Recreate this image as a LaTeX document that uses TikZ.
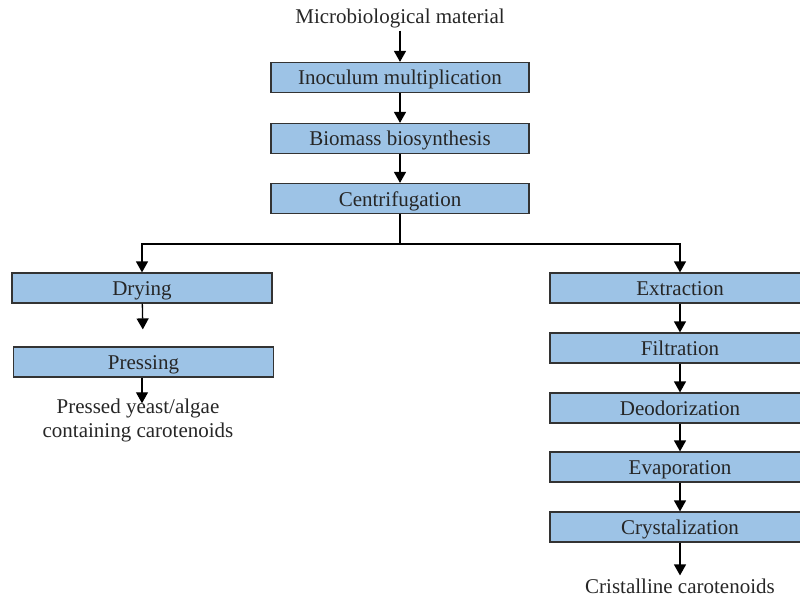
\documentclass[tikz,border=0pt]{standalone}
\usepackage{fontspec}
\setmainfont{Liberation Serif}
\usetikzlibrary{arrows.meta}
\definecolor{boxBlue}{RGB}{157,195,230}
\tikzset{
  >={Triangle[length=11pt,width=12pt]},
  box/.style = {draw=black!80, line width=1.2pt, fill=boxBlue, minimum width=258pt, minimum height=30pt, inner sep=0pt, text height=15pt, text depth=0pt, text=black!85},
  endtext/.style = {align=center, text=black!85, inner sep=3pt},
  line/.style = {line width=1.3pt},
}

\begin{document}
\begin{tikzpicture}[x=1pt, y=-1pt, font=\fontsize{21}{24}\selectfont]
  \useasboundingbox (0,0) rectangle (800,599);

  % ----------------------------------------------------------------------
  % Main line
  % ----------------------------------------------------------------------
  \node[endtext] (material) at (400,18) {Microbiological material};
  \node[box] (inoculum) at (400,77.5) {Inoculum multiplication};
  \node[box] (biomass) at (400,138.5) {Biomass biosynthesis};
  \node[box] (centrif) at (400,198.5) {Centrifugation};

  \draw[line, ->] (material) -- (inoculum);
  \draw[line, ->] (inoculum) -- (biomass);
  \draw[line, ->] (biomass) -- (centrif);

  % split
  \draw[line] (centrif.south) -- ++(0,30) coordinate (split);

  % ----------------------------------------------------------------------
  % Left branch
  % ----------------------------------------------------------------------
  \node[box, minimum width=260pt] (drying) at (142,288) {Drying};
  \node[box, minimum width=260pt] (pressing) at (143.5,362) {Pressing};
  \node[endtext] (pressed) at (138,420) {Pressed yeast/algae\\containing carotenoids};

  \draw[line, ->] (split) -| (drying);
  \draw[line, ->, shorten >=17pt] (drying) -- (pressing);
  \draw[line, ->, shorten >=-8pt] (pressing.south -| drying) -- (pressed.north -| drying);

  % ----------------------------------------------------------------------
  % Right branch
  % ----------------------------------------------------------------------
  \foreach \name/\txt/\y in {extract/Extraction/288, filtr/Filtration/348, deodor/Deodorization/408, evapor/Evaporation/467, cryst/Crystalization/527} {
    \node[box, minimum width=260pt] (\name) at (680,\y) {\txt};
  }
  \node[endtext] (cristal) at (680,586) {Cristalline carotenoids};

  \draw[line, ->] (split) -| (extract);
  \foreach \a/\b in {extract/filtr, filtr/deodor, deodor/evapor, evapor/cryst, cryst/cristal} {
    \draw[line, ->] (\a) -- (\b);
  }

\end{tikzpicture}
\end{document}
